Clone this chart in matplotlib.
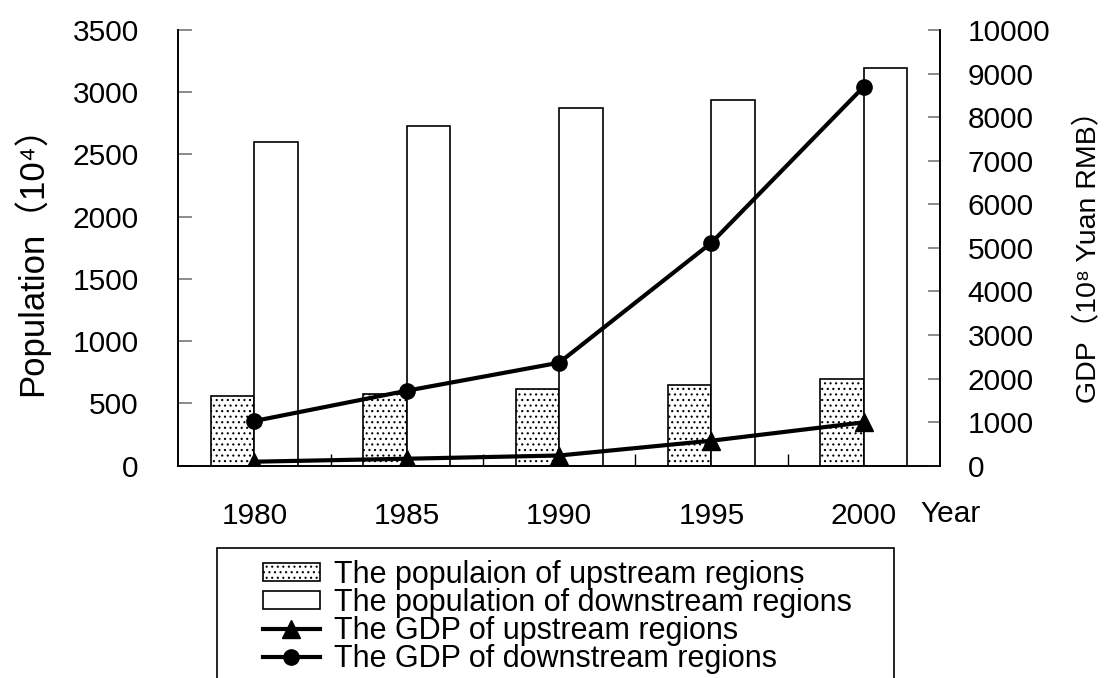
import matplotlib
matplotlib.use("Agg")
import matplotlib.pyplot as plt
import numpy as np
from matplotlib.patches import Rectangle

plt.rcParams['font.family'] = ['Liberation Sans', 'Noto Sans CJK SC']
plt.rcParams['hatch.linewidth'] = 0.8

years = ['1980', '1985', '1990', '1995', '2000']
pop_up = [562, 578, 614, 646, 694]
pop_down = [2603, 2731, 2876, 2938, 3195]
gdp_up = [92, 160, 234, 574, 995]
gdp_down = [1026, 1721, 2364, 5118, 8699]

W, H = 1104, 678
fig = plt.figure(figsize=(W / 100, H / 100), dpi=100)
ax = fig.add_axes([178.3 / W, 1 - 465.7 / H, (940 - 178.3) / W, (465.7 - 30) / H])
ax2 = ax.twinx()

x = np.arange(len(years))
bw = 0.286
b1 = ax.bar(x - bw / 2, pop_up, bw, facecolor='white', edgecolor='black',
            linewidth=1.2, hatch='...', label='The populaion of upstream regions')
b2 = ax.bar(x + bw / 2, pop_down, bw, facecolor='white', edgecolor='black',
            linewidth=1.2, label='The population of downstream regions')
l1, = ax2.plot(x, gdp_up, color='black', lw=3, marker='^', ms=13,
               label='The GDP of upstream regions')
l2, = ax2.plot(x, gdp_down, color='black', lw=3, marker='o', ms=11,
               label='The GDP of downstream regions')

ax.set_xlim(-0.5, len(years) - 0.5)
ax.set_ylim(0, 3500)
ax2.set_ylim(0, 10000)
ax.set_yticks(np.arange(0, 3501, 500))
ax2.set_yticks(np.arange(0, 10001, 1000))

ax.set_xticks(np.arange(0.5, len(years) - 0.5, 1))
ax.set_xticks(x, minor=True)
ax.set_xticklabels([])
ax.set_xticklabels(years, minor=True)
ax.tick_params(axis='x', which='major', direction='in', length=9, width=1)
ax.tick_params(axis='x', which='minor', length=0, pad=26, labelsize=21.5)
ax.tick_params(axis='y', direction='in', length=10, width=1.2, color='#777777', pad=28.5, labelsize=21.5)
ax2.tick_params(axis='y', direction='in', length=9, width=1.2, color='#777777', pad=20, labelsize=21.5)

for a in (ax, ax2):
    a.spines['top'].set_visible(False)
    for s in a.spines.values():
        s.set_linewidth(1.2)

ax.set_ylabel('Population（10⁴）', fontsize=25)
ax.yaxis.set_label_coords(-0.17, 0.49)
ax2.set_ylabel('GDP（10⁸ Yuan RMB）', fontsize=20.5, rotation=90)
ax2.yaxis.set_label_coords(1.178, 0.495)

fig.text(920 / W, 1 - 514 / H, 'Year', fontsize=21.5, ha='left', va='center')

leg = fig.legend(handles=[b1, b2, l1, l2], loc='upper left',
                 bbox_to_anchor=(263 / W, 1 - 560 / H), frameon=False,
                 fontsize=22, borderpad=0, borderaxespad=0,
                 handlelength=1.86, handletextpad=0.46, labelspacing=-0.07,
                 handleheight=0.55)
fig.patches.append(Rectangle((217 / W, -0.05), (894 - 217) / W, 1 - 548 / H + 0.05,
                             transform=fig.transFigure, fill=False,
                             edgecolor='black', linewidth=1.2))

fig.savefig('out.png', dpi=100)
